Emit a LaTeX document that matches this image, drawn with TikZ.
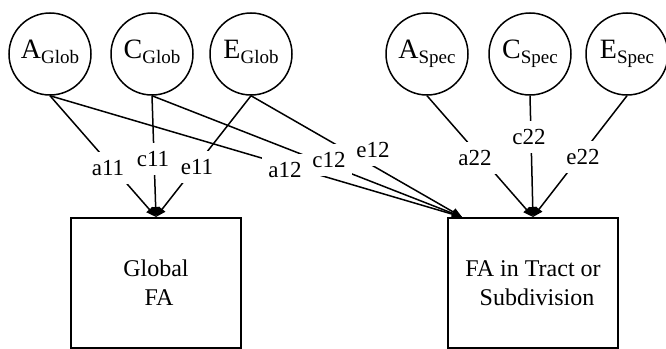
\documentclass[tikz,border=0pt]{standalone}
\usepackage{fontspec}
\setmainfont{Liberation Serif}
\usetikzlibrary{arrows.meta}
\newcommand{\latsub}[2]{#1\raisebox{-5pt}{\fontsize{19}{19}\selectfont #2}}
\begin{document}
\begin{tikzpicture}[x=1pt,y=-1pt,
  latent/.style={draw, circle, line width=1.5pt, minimum size=82pt, inner sep=0pt,
    font=\fontsize{28}{28}\selectfont, text height=18.5pt, text depth=10.5pt},
  outcome/.style={draw, rectangle, line width=1.8pt, minimum width=170pt, minimum height=130pt,
    align=center, font=\fontsize{24}{30}\selectfont, anchor=north},
  path/.style={line width=1.5pt},
  arr/.style={path, -{Triangle[length=10pt,width=8pt]}},
  coef/.style={fill=white, inner xsep=6pt, inner ysep=8pt, font=\fontsize{23}{23}\selectfont}]
\useasboundingbox[fill=white] (0,0) rectangle (666,348);

% latent factors
\node[latent] (AG) at (50,54)  {\latsub{A}{Glob}};
\node[latent] (CG) at (152,54) {\latsub{C}{Glob}};
\node[latent] (EG) at (251,54) {\latsub{E}{Glob}};
\node[latent] (AS) at (427,54) {\latsub{A}{Spec}};
\node[latent] (CS) at (530,54) {\latsub{C}{Spec}};
\node[latent] (ES) at (627,54) {\latsub{E}{Spec}};

% outcomes
\node[outcome] (GF) at (156,217) {Global\\[-1pt]\hspace*{6pt}FA};
\node[outcome] (RB) at (533,217) {FA in Tract or\\[-1pt]\hspace*{8pt}Subdivision};
\coordinate (RBin) at (462,217);

% paths
\draw[arr] (AG.south) -- (GF.north);
\draw[arr] (CG.south) -- (GF.north);
\draw[arr] (EG.south) -- (GF.north);
\draw[arr] (AG.south) -- (RBin);
\draw[arr] (CG.south) -- (RBin);
\draw[arr] (EG.south) -- (RBin);
\draw[arr] (AS.south) -- (RB.north);
\draw[arr] (CS.south) -- (RB.north);
\draw[arr] (ES.south) -- (RB.north);

% coefficient labels
\node[coef] (a11) at (108,168) {a11};
\node[coef] (c11) at (153,159) {c11};
\node[coef] (e11) at (197,167) {e11};
\node[coef] (a12) at (285,170) {a12};
\node[coef] (c12) at (329,160) {c12};
\node[coef] (e12) at (373,150) {e12};
\node[coef] (a22) at (475,158) {a22};
\node[coef] (c22) at (529,137) {c22};
\node[coef] (e22) at (583,157) {e22};
\end{tikzpicture}
\end{document}
